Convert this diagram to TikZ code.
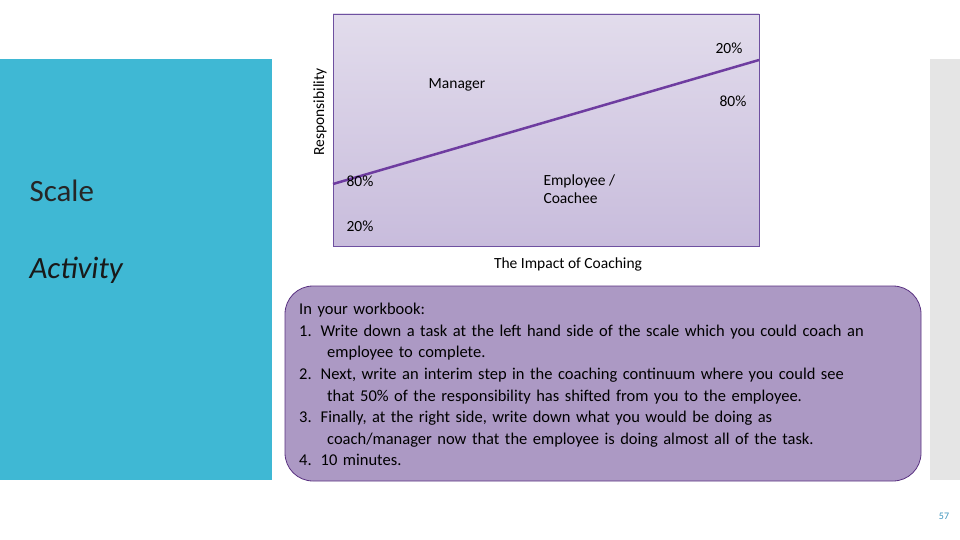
\documentclass[tikz,border=0pt]{standalone}
\usepackage{fontspec}
\setmainfont{Carlito}
\begin{document}
\begin{tikzpicture}[x=1pt,y=-1pt,
  lbl/.style={font=\fontsize{15.5}{18}\selectfont, text=black},
  body/.style={font=\fontsize{16.5}{21.6}\selectfont, text=black}]
\useasboundingbox (0,0) rectangle (960,540);
\fill[white] (0,0) rectangle (960,540);
\fill[fill={rgb,255:red,63;green,184;blue,212}] (0,59) rectangle (272,480);
\fill[gray!20] (930,59) rectangle (960,480);
\node[anchor=west, font=\fontsize{31}{36}\selectfont, text=black!85] (scale) at (26,191) {Scale};
\node[anchor=west, font=\itshape\fontsize{31}{36}\selectfont, text=black!90] (act) at (26,270) {Activity};
\shade[top color={rgb,255:red,226;green,220;blue,236}, bottom color={rgb,255:red,200;green,188;blue,220}] (333,14) rectangle (759,246);
\draw[draw={rgb,255:red,110;green,80;blue,160}] (333,14) rectangle (759,246);
\coordinate (ls) at (333,184);
\coordinate (le) at (759,60);
\draw[line width=2.5pt, draw={rgb,255:red,110;green,60;blue,160}] (ls) -- (le);
\node[rotate=90, lbl] (resp) at (320,112) {Responsibility};
\node[lbl] (mgr) at (457,85) {Manager};
\node[lbl] (p1) at (729,48) {20\%};
\node[lbl] (p2) at (733,101) {80\%};
\node[lbl] (p3) at (360,181) {80\%};
\node[lbl] (p4) at (360,226) {20\%};
\node[lbl, align=left, anchor=north west] (emp) at (540,171) {Employee /\\Coachee};
\node[lbl] (title) at (568,264) {The Impact of Coaching};
\draw[rounded corners=28pt, fill={rgb,255:red,172;green,153;blue,196}, draw={rgb,255:red,90;green,50;blue,130}, line width=0.8pt] (285,286) rectangle (921,481);
\node[body, anchor=north west, align=left, text width=620pt, inner sep=0pt] (txt) at (299,303) {In your workbook:\\
1.\hspace{9pt}Write down a task at the left hand side of the scale which you could coach an\\
\hspace{28pt}employee to complete.\\
2.\hspace{9pt}Next, write an interim step in the coaching continuum where you could see\\
\hspace{28pt}that 50\% of the responsibility has shifted from you to the employee.\\
3.\hspace{9pt}Finally, at the right side, write down what you would be doing as\\
\hspace{28pt}coach/manager now that the employee is doing almost all of the task.\\
4.\hspace{9pt}10 minutes.};
\node[font=\fontsize{10}{12}\selectfont, text={rgb,255:red,63;green,150;blue,190}] (pg) at (944,516) {57};
\end{tikzpicture}
\end{document}
